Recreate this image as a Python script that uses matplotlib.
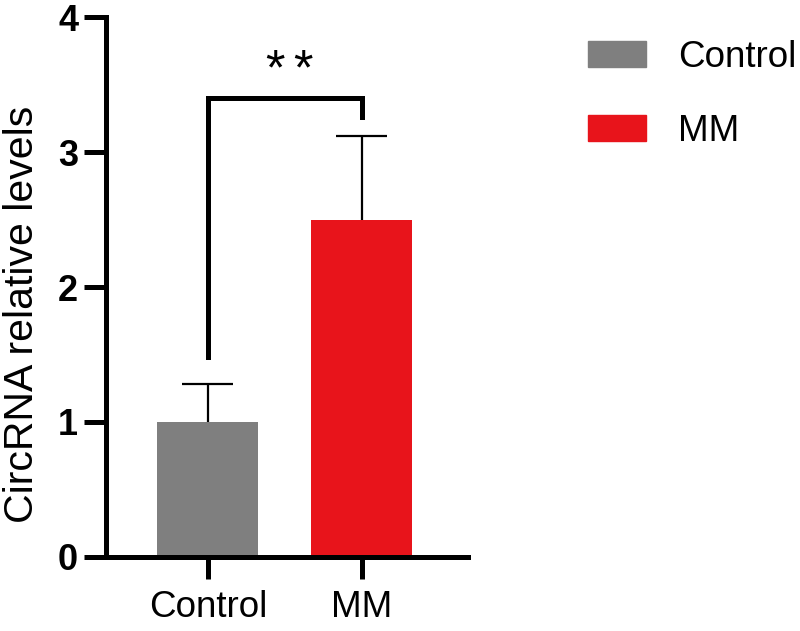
import numpy as np
import matplotlib
matplotlib.use("Agg")
import matplotlib.pyplot as plt
from matplotlib.patches import Patch

groups = ["Control", "MM"]
means = [1.0, 2.5]
errs = [0.28, 0.62]
colors = ["#7f7f7f", "#e8141b"]

plt.rcParams['font.family'] = ['Liberation Sans', 'DejaVu Sans']

fig = plt.figure(figsize=(8, 6.31), dpi=100)
ax = fig.add_axes([0.1325, 0.1173, 0.4525, 0.8557])

x = np.arange(len(groups))
ax.bar(x, means, width=0.656, color=colors, zorder=2)
# upper error bars only
tops = np.array(means) + np.array(errs)
ax.vlines(x, means, tops, color="black", lw=1.6, zorder=1)
ax.hlines(tops, x - 0.165, x + 0.165, color="black", lw=1.6, zorder=1)

ax.set_xlim(-0.662, 1.69)
ax.set_ylim(0, 4)
ax.set_yticks([0, 1, 2, 3, 4])
ax.set_xticks(x)
ax.set_xticklabels(groups, fontsize=26.5)
for lab in ax.get_yticklabels():
    lab.set_fontsize(26)
    lab.set_fontweight("bold")
    lab.set_family(['Liberation Sans Narrow', 'Liberation Sans', 'DejaVu Sans'])

for s in ["top", "right"]:
    ax.spines[s].set_visible(False)
for s in ["left", "bottom"]:
    ax.spines[s].set_linewidth(3.6)
ax.tick_params(axis="both", width=3.6, length=16)
ax.tick_params(axis="x", pad=8)
ax.tick_params(axis="y", pad=4)

ax.set_ylabel("CircRNA relative levels", fontsize=29.5)
ax.yaxis.set_label_coords(-0.18, 0.45)

# significance bracket
ax.plot([0, 0, 1, 1], [1.48, 3.40, 3.40, 3.26], color="black", lw=3.6,
        solid_joinstyle="miter", clip_on=False)
for sx in [0.435, 0.617]:
    ax.text(sx, 3.60, "*", ha="center", va="center", fontsize=36)

handles = [Patch(color=c, label=g) for g, c in zip(groups, colors)]
fig.legend(handles=handles, loc="upper left", bbox_to_anchor=(0.735, 0.937),
           frameon=False, fontsize=26.5, handlelength=1.58, handleheight=0.73,
           handletextpad=0.87, labelspacing=1.06, borderpad=0, borderaxespad=0)

fig.savefig("out.png", dpi=100)
